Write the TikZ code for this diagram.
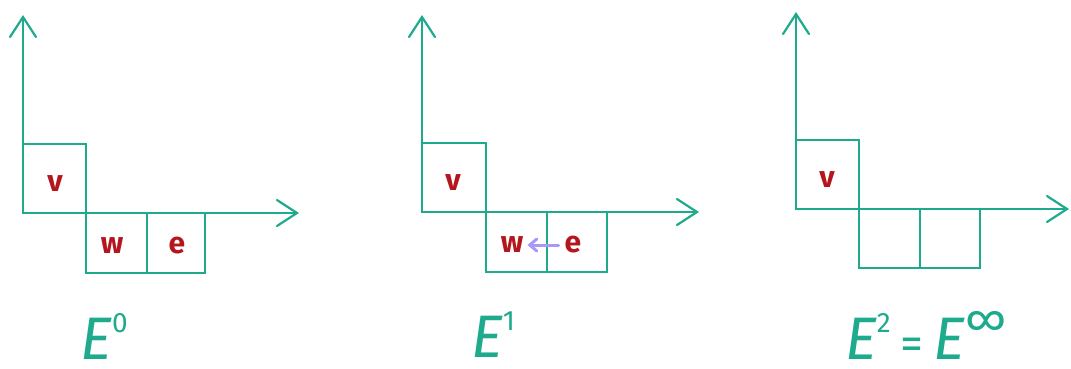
\documentclass[tikz,border=0pt]{standalone}
\usepackage{fontspec}
\setsansfont{Fira Sans}
\usetikzlibrary{arrows.meta}
\definecolor{tealc}{RGB}{30,170,140}
\definecolor{redc}{RGB}{180,22,30}
\definecolor{purpc}{RGB}{170,152,248}
\begin{document}
\begin{tikzpicture}[x=1pt,y=-1pt,
  axis/.style={draw=tealc, line width=2.2pt, line cap=round, -{Straight Barb[length=20pt,width=26pt,line cap=round]}},
  cell/.style={draw=tealc, line width=2.2pt, inner sep=0pt},
  lbl/.style={text=redc, font=\sffamily\bfseries\fontsize{30}{32}\selectfont, inner sep=0pt},
  pagelbl/.style={text=tealc, font=\sffamily\itshape\fontsize{60}{62}\selectfont, inner sep=0pt},
  moveto/.style={draw=purpc, line width=3pt, line cap=round, -{Straight Barb[length=7pt,width=12pt,line cap=round]}}]
\useasboundingbox (0,0) rectangle (1071,368);

% ---------- E^0 ----------
\coordinate (o1) at (23,213);
\coordinate (ya1) at (23,15);
\coordinate (xa1) at (299,213);
\node[cell, minimum width=63pt, minimum height=69pt] (v1) at (54.5,178.5) {};
\node[cell, minimum width=61pt, minimum height=60pt] (w1) at (116.5,243) {};
\node[cell, minimum width=58pt, minimum height=60pt] (e1) at (176,243) {};
\draw[axis] (o1) -- (ya1);
\draw[axis] (o1) -- (xa1);
\node[lbl] (lv1) at (55,184) {v};
\node[lbl] (lw1) at (112,246) {w};
\node[lbl] (le1) at (177,246) {e};
\node[pagelbl] (p0) at (104,336) {E\raisebox{0.45em}{\fontsize{28}{28}\selectfont\upshape 0}};

% ---------- E^1 ----------
\coordinate (o2) at (422,212);
\coordinate (ya2) at (422,15);
\coordinate (xa2) at (699,212);
\node[cell, minimum width=64pt, minimum height=69pt] (v2) at (454,177.5) {};
\node[cell, minimum width=61pt, minimum height=60pt] (w2) at (516.5,242) {};
\node[cell, minimum width=60pt, minimum height=60pt] (e2) at (577,242) {};
\draw[axis] (o2) -- (ya2);
\draw[axis] (o2) -- (xa2);
\node[lbl] (lv2) at (453,183) {v};
\node[lbl] (lw2) at (512,245) {w};
\node[lbl] (le2) at (573,245) {e};
\draw[moveto] ([xshift=-6pt]le2.west) -- ([xshift=4pt]lw2.east);
\node[pagelbl] (p1) at (493,335) {E\raisebox{0.45em}{\fontsize{28}{28}\selectfont\upshape 1}};

% ---------- E^2 = E^infty ----------
\coordinate (o3) at (796,209);
\coordinate (ya3) at (796,12);
\coordinate (xa3) at (1069,209);
\node[cell, minimum width=63pt, minimum height=69pt] (v3) at (827.5,174.5) {};
\node[cell, minimum width=61pt, minimum height=59pt] (w3) at (889.5,238.5) {};
\node[cell, minimum width=60pt, minimum height=59pt] (e3) at (950,238.5) {};
\draw[axis] (o3) -- (ya3);
\draw[axis] (o3) -- (xa3);
\node[lbl] (lv3) at (827,180) {v};
\node[pagelbl] (p2) at (926,335) {E\raisebox{0.45em}{\fontsize{28}{28}\selectfont\upshape 2}\,{\upshape\fontsize{46}{46}\selectfont =}\,E\raisebox{0.4em}{\fontsize{46}{46}\selectfont\upshape ∞}};
\end{tikzpicture}
\end{document}
